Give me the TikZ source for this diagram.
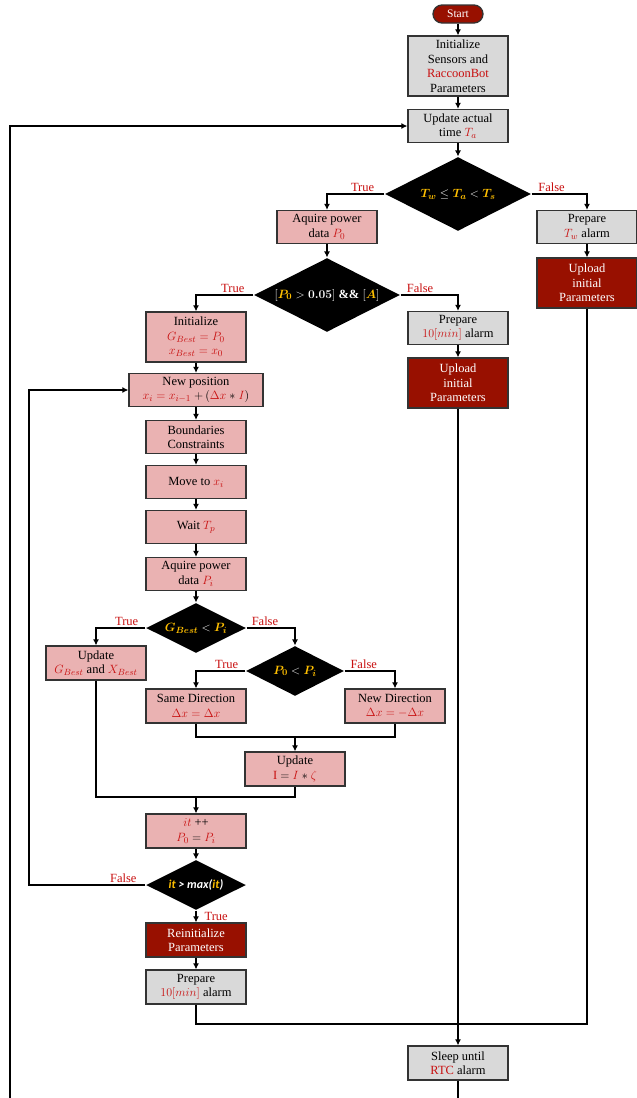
\documentclass[tikz,border=0pt]{standalone}
\usepackage{fontspec}
\setmainfont{Liberation Serif}
\newfontfamily\calibri{Carlito}
\usepackage{amsmath}
\usepackage{bm}
\usetikzlibrary{positioning,shapes.geometric,arrows.meta}
\definecolor{txtred}{RGB}{200,16,16}
\definecolor{dgold}{RGB}{255,192,0}
\definecolor{boxpink}{RGB}{234,178,178}
\definecolor{boxgray}{RGB}{217,217,217}
\definecolor{darkred}{RGB}{152,16,0}
\newcommand{\redtxt}[1]{\textcolor{txtred}{#1}}
\newcommand{\goldtxt}[1]{\textcolor{dgold}{\bm{#1}}}
\begin{document}
\begin{tikzpicture}[x=1pt, y=-1pt, >={Latex[length=6pt,width=6pt]}, line width=1.1pt,
    font=\fontsize{12.5}{14.5}\selectfont,
    box/.style={draw=black!80, line width=1.3pt, minimum width=100pt, minimum height=33pt, align=center, inner sep=1pt},
    pinkbox/.style={box, fill=boxpink},
    graybox/.style={box, fill=boxgray},
    redbox/.style={box, fill=darkred, text=white},
    decision/.style={diamond, aspect=2, fill=black, text=white, inner sep=0pt, minimum width=146pt, minimum height=74pt},
    smalldec/.style={decision, minimum width=100pt, minimum height=50pt},
    lbl/.style={text=txtred, inner sep=2pt}]
    \useasboundingbox (0,0) rectangle (637,1098);

    \node [redbox, rounded corners=9pt, minimum width=50pt, minimum height=18pt, font=\fontsize{11.5}{12}\selectfont] (start) at (458,14) {Start};
    \node [graybox, minimum height=60pt] (init) at (458,66) {Initialize\\Sensors and\\\redtxt{RaccoonBot}\\Parameters};
    \node [graybox] (time) at (458,126) {Update actual\\time \redtxt{$T_a$}};
    \node [decision] (window) at (458,194) {$\goldtxt{T_w} \le \goldtxt{T_a} < \goldtxt{T_s}$};
    \node [pinkbox] (power0) at (327,227) {Aquire power\\data \redtxt{$P_0$}};
    \node [graybox] (alarmw) at (587,227) {Prepare\\\redtxt{$T_w$} alarm};
    \node [redbox, minimum height=50pt] (uploadw) at (587,283) {Upload\\initial\\Parameters};
    \node [decision] (thresh) at (327,295) {$[\goldtxt{P_0} > \bm{0.05}]$ \textbf{\&\&} $[\goldtxt{A}]$};
    \node [pinkbox, minimum height=50pt] (initbest) at (196,337) {Initialize\\\redtxt{$G_{Best} = P_0$}\\\redtxt{$x_{Best} = x_0$}};
    \node [graybox] (alarmten) at (458,328) {Prepare\\\redtxt{$10[min]$} alarm};
    \node [redbox, minimum height=50pt] (uploadten) at (458,383) {Upload\\initial\\Parameters};
    \node [pinkbox, minimum width=134pt] (newpos) at (196,390) {New position\\\redtxt{$x_i = x_{i-1}$} $+\,($\redtxt{$\Delta x$} $*$ \redtxt{$I$}$)$};
    \node [pinkbox] (bounds) at (196,437) {Boundaries\\Constraints};
    \node [pinkbox] (move) at (196,482) {Move to \redtxt{$x_i$}};
    \node [pinkbox] (wait) at (196,527) {Wait \redtxt{$T_p$}};
    \node [pinkbox] (poweri) at (196,574) {Aquire power\\data \redtxt{$P_i$}};
    \node [smalldec] (best) at (196,628) {$\goldtxt{G_{Best}} < \goldtxt{P_i}$};
    \node [pinkbox, minimum height=34pt] (updbest) at (96,663) {Update\\\redtxt{$G_{Best}$} and \redtxt{$X_{Best}$}};
    \node [smalldec, minimum width=98pt] (compare) at (295,671) {$\goldtxt{P_0} < \goldtxt{P_i}$};
    \node [pinkbox, minimum height=34pt] (samedir) at (196,706) {Same Direction\\\redtxt{$\Delta x = \Delta x$}};
    \node [pinkbox, minimum height=34pt] (newdir) at (395,706) {New Direction\\\redtxt{$\Delta x = -\Delta x$}};
    \node [pinkbox, minimum height=34pt] (updstep) at (295,769) {Update\\\redtxt{$\mathrm{I}$} $=$ \redtxt{$I$} $*$ \redtxt{$\zeta$}};
    \node [pinkbox, minimum height=34pt] (iter) at (196,831) {\redtxt{$it$} ++\\\redtxt{$P_0$} $=$ \redtxt{$P_i$}};
    \node [smalldec] (maxit) at (196,885) {\calibri\bfseries\itshape\fontsize{12}{14}\selectfont \textcolor{dgold}{it} > max(\textcolor{dgold}{it})};
    \node [redbox, minimum height=34pt] (reinit) at (196,940) {Reinitialize\\Parameters};
    \node [graybox, minimum height=34pt] (alarmend) at (196,987) {Prepare\\\redtxt{$10[min]$} alarm};
    \node [graybox, minimum height=34pt] (sleep) at (458,1063) {Sleep until\\\redtxt{RTC} alarm};

    \coordinate (join1) at (295,737);
    \coordinate (join2) at (196,797);
    \coordinate (join3) at (458,1024);
    \coordinate (loopin) at (29,885);
    \coordinate (sleepout) at (458,1098);
    \coordinate (loopout) at (10,1098);

    \draw [->] (start) -- (init);
    \draw [->] (init) -- (time);
    \draw [->] (time) -- (window);
    \draw [->] (window.west) -| node [lbl, above, pos=0.19] {True} (power0);
    \draw [->] (window.east) -| node [lbl, above, pos=0.18] {False} (alarmw);
    \draw [->] (alarmw) -- (uploadw);
    \draw [->] (power0) -- (thresh);
    \draw [->] (thresh.west) -| node [lbl, above, pos=0.18] {True} (initbest);
    \draw [->] (thresh.east) -| node [lbl, above, pos=0.17] {False} (alarmten);
    \draw [->] (alarmten) -- (uploadten);
    \draw [->] (initbest) -- (newpos);
    \draw [->] (newpos) -- (bounds);
    \draw [->] (bounds) -- (move);
    \draw [->] (move) -- (wait);
    \draw [->] (wait) -- (poweri);
    \draw [->] (poweri) -- (best);
    \draw [->] (best.west) -| node [lbl, above, pos=0.19] {True} (updbest);
    \draw [->] (best.east) -| node [lbl, above, pos=0.19] {False} (compare.north);
    \draw [->] (compare.west) -| node [lbl, above, pos=0.19] {True} (samedir);
    \draw [->] (compare.east) -| node [lbl, above, pos=0.19] {False} (newdir);
    \draw (samedir.south) |- (join1) -| (newdir.south);
    \draw [->] (join1) -- (updstep);
    \draw (updbest.south) |- (join2) -| (updstep.south);
    \draw [->] (join2) -- (iter);
    \draw [->] (iter) -- (maxit);
    \draw [->] (maxit.west) -- node [lbl, above, pos=0.19] {False} (loopin) |- (newpos.west);
    \draw [->] (maxit) -- node [lbl, anchor=south west, pos=1, xshift=7pt, inner sep=1pt] {True} (reinit);
    \draw [->] (reinit) -- (alarmend);
    \draw (alarmend.south) |- (join3);
    \draw (uploadw.south) |- (join3);
    \draw [->] (uploadten) -- (sleep);
    \draw (sleep) -- (sleepout);
    \draw [->] (loopout) |- (time.west);
\end{tikzpicture}
\end{document}
